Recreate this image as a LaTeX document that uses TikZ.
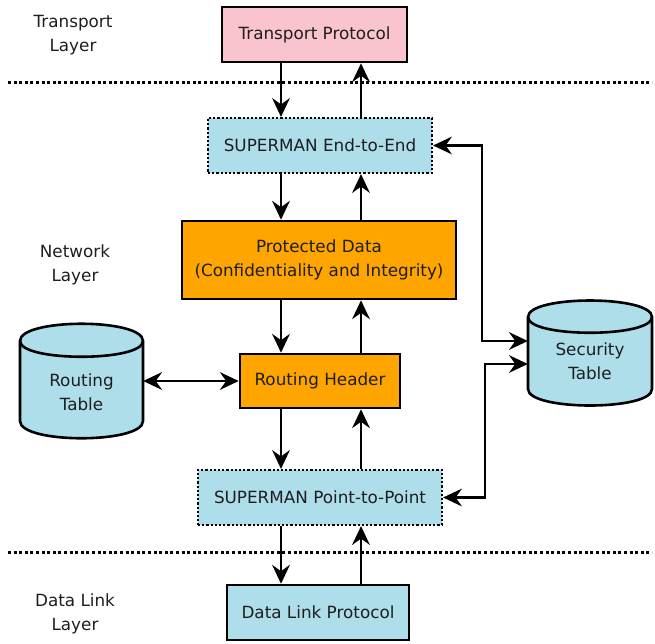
\documentclass[tikz,border=0pt]{standalone}
\usepackage{fontspec}
\setmainfont{DejaVu Sans}
\usetikzlibrary{arrows.meta,calc}
\definecolor{pinkf}{RGB}{250,196,206}
\definecolor{bluef}{RGB}{173,222,234}
\definecolor{orangef}{RGB}{255,165,0}
\definecolor{txt}{RGB}{30,30,30}
\begin{document}
\begin{tikzpicture}[x=1pt,y=-1pt,
  >={Stealth[length=19pt,width=18pt,inset=6.5pt,line width=0pt]},
  every node/.style={font=\fontsize{16.8}{24}\selectfont, text=txt, align=center, inner sep=0pt},
  solidbox/.style={draw=black, line width=2.6pt},
  dotbox/.style={draw=black, line width=2.2pt, dash pattern=on 2.2pt off 2pt},
  arr/.style={->, line width=2.5pt},
  darr/.style={<->, line width=2.5pt},
  sep/.style={line width=3pt, dash pattern=on 3pt off 2.6pt},
  cyl/.style={draw=black, line width=2.6pt, fill=bluef},
  cylline/.style={draw=black, line width=2.6pt}
]
\useasboundingbox (0,0) rectangle (655,643);

% layer separators
\draw[sep] (8,82) -- (652,82);
\draw[sep] (8,552) -- (652,552);

% layer labels
\node (lt) at (73,35) {Transport\\Layer};
\node (ln) at (75,265) {Network\\Layer};
\node (ld) at (75,614) {Data Link\\Layer};

% boxes
\node[solidbox, fill=pinkf, minimum width=185pt, minimum height=55pt] (tp) at (314.5,34.5) {Transport Protocol};
\node[dotbox, fill=bluef, minimum width=224pt, minimum height=55pt] (e2e) at (320,145.5) {SUPERMAN End-to-End};
\node[solidbox, fill=orangef, minimum width=274pt, minimum height=78pt] (pd) at (319,260) {Protected Data\\(Confidentiality and Integrity)};
\node[solidbox, fill=orangef, minimum width=160pt, minimum height=54pt] (rh) at (320,381) {Routing Header};
\node[dotbox, fill=bluef, minimum width=244pt, minimum height=55pt] (p2p) at (320,497.5) {SUPERMAN Point-to-Point};
\node[solidbox, fill=bluef, minimum width=182pt, minimum height=55pt] (dl) at (318,612.5) {Data Link Protocol};

% cylinders
\draw[cyl] (20,341) .. controls (20,318) and (143,318) .. (143,341) -- (143,421)
  .. controls (143,444) and (20,444) .. (20,421) -- cycle;
\draw[cylline] (20,341) .. controls (20,362) and (143,362) .. (143,341);
\node[minimum width=123pt] (rt) at (81.5,392) {Routing\\Table};

\draw[cyl] (528,317) .. controls (528,295) and (652,295) .. (652,317) -- (652,389)
  .. controls (652,411) and (528,411) .. (528,389) -- cycle;
\draw[cylline] (528,317) .. controls (528,338) and (652,338) .. (652,317);
\node[minimum width=124pt] (st) at (590,361) {Security\\Table};

% vertical arrows
\coordinate (dn) at (281,0);
\coordinate (upx) at (361,0);
\draw[arr] (tp.south -| dn) -- (e2e.north -| dn);
\draw[arr] (e2e.north -| upx) -- (tp.south -| upx);
\draw[arr] (e2e.south -| dn) -- (pd.north -| dn);
\draw[arr] (pd.north -| upx) -- (e2e.south -| upx);
\draw[arr] (pd.south -| dn) -- (rh.north -| dn);
\draw[arr] (rh.north -| upx) -- (pd.south -| upx);
\draw[arr] (rh.south -| dn) -- (p2p.north -| dn);
\draw[arr] (p2p.north -| upx) -- (rh.south -| upx);
\draw[arr] (p2p.south -| dn) -- (dl.north -| dn);
\draw[arr] (dl.north -| upx) -- (p2p.south -| upx);

% routing table link
\draw[darr] (rh.west -| rt.east) -- (rh.west);

% security table links
\coordinate (k1) at (482,341);
\coordinate (k2) at (485,364);
\draw[darr] (e2e.east) -| (k1) -- (k1 -| st.west);
\draw[darr] (p2p.east) -| (k2) -- (k2 -| st.west);
\end{tikzpicture}
\end{document}
